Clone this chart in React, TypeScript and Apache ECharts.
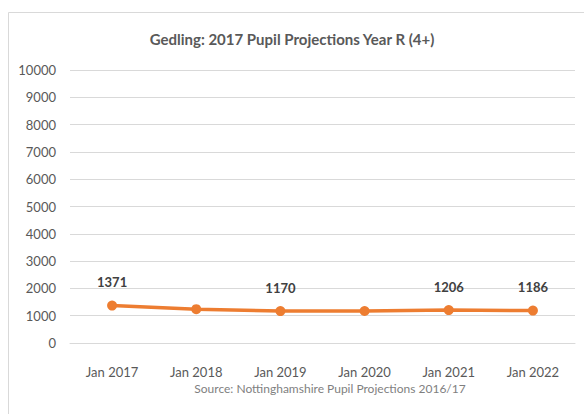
import React, { useEffect, useRef } from "react";
import * as echarts from "echarts";

const categories = ["Jan 2017", "Jan 2018", "Jan 2019", "Jan 2020", "Jan 2021", "Jan 2022"];
const values = [1371, 1240, 1170, 1172, 1206, 1186];
const showLabel = [true, false, true, false, true, true];
const titleText = "Gedling: 2017 Pupil Projections Year R (4+)";
const sourceText = "Source: Nottinghamshire Pupil Projections 2016/17";

const FONT = "Lato, 'Open Sans', sans-serif";

export default function App() {
  const ref = useRef<HTMLDivElement>(null);
  useEffect(() => {
    if (!ref.current) return;
    const chart = echarts.init(ref.current, null, { renderer: "svg" });
    chart.setOption({
      animation: false,
      backgroundColor: "#ffffff",
      title: {
        text: titleText,
        left: "center",
        top: 26,
        textStyle: { fontFamily: FONT, fontSize: 15, fontWeight: "bold", color: "#595959" },
      },
      graphic: [
        { type: "line", shape: { x1: 8.5, y1: 12.5, x2: 584, y2: 12.5 }, style: { stroke: "#d9d9d9", lineWidth: 1 } },
        { type: "line", shape: { x1: 8.5, y1: 12.5, x2: 8.5, y2: 414 }, style: { stroke: "#d9d9d9", lineWidth: 1 } },
        {
          type: "text",
          x: 330,
          y: 388,
          style: {
            text: sourceText,
            fontFamily: FONT,
            fontSize: 12,
            fill: "#7f7f7f",
            align: "center",
            verticalAlign: "middle",
          },
        },
      ],
      grid: { left: 70, right: 9, top: 70, bottom: 71 },
      xAxis: {
        type: "category",
        data: categories,
        boundaryGap: true,
        axisLine: { show: true, lineStyle: { color: "#d9d9d9" } },
        axisTick: { show: false },
        axisLabel: { fontFamily: FONT, fontSize: 13, color: "#595959", margin: 22 },
      },
      yAxis: {
        type: "value",
        min: 0,
        max: 10000,
        interval: 1000,
        axisLine: { show: false },
        axisTick: { show: false },
        axisLabel: {
          fontFamily: FONT,
          fontSize: 13,
          color: "#595959",
          margin: 14,
          formatter: (v: number) => String(v),
        },
        splitLine: { lineStyle: { color: "#d9d9d9" } },
      },
      series: [
        {
          type: "line",
          data: values.map((v, i) => ({
            value: v,
            label: { show: showLabel[i] },
          })),
          lineStyle: { color: "#ed7d31", width: 3.5 },
          itemStyle: { color: "#ed7d31" },
          symbol: "circle",
          symbolSize: 10,
          label: {
            position: "top",
            distance: 12,
            fontFamily: FONT,
            fontSize: 13,
            fontWeight: "bold",
            color: "#404040",
          },
        },
      ],
    });
    return () => chart.dispose();
  }, []);
  return <div ref={ref} style={{ position: "absolute", left: 0, top: 0, width: 584, height: 414 }} />;
}
